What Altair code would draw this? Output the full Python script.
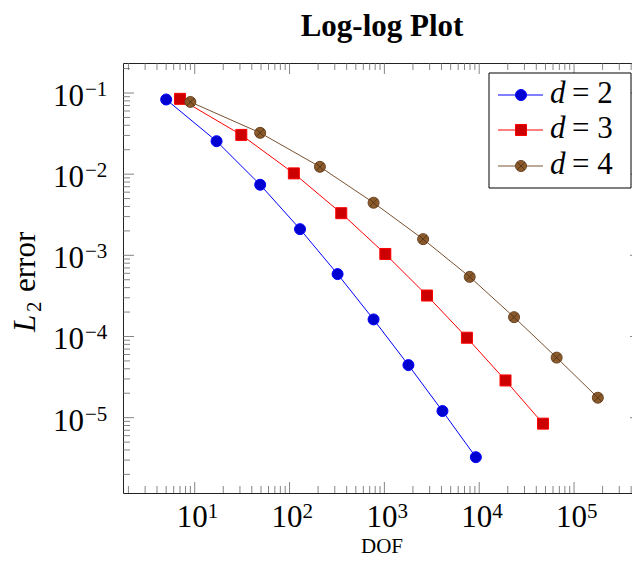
import altair as alt
import pandas as pd

# ---------------- data ----------------
series_names = ["d = 2", "d = 3", "d = 4"]
dof_d2 = [5, 17, 49, 129, 321, 769, 1793, 4097, 9217]
err_d2 = [8.31160034e-02, 2.54685628e-02, 7.40715288e-03, 2.10192154e-03, 5.87352989e-04,
          1.62269942e-04, 4.44248889e-05, 1.20714122e-05, 3.26101452e-06]
dof_d3 = [7, 31, 111, 351, 1023, 2815, 7423, 18943, 47103]
err_d3 = [8.47178381e-02, 3.04409349e-02, 1.02214539e-02, 3.30346265e-03, 1.03886535e-03,
          3.19646457e-04, 9.65789766e-05, 2.87339125e-05, 8.43749881e-06]
dof_d4 = [9, 49, 209, 769, 2561, 7937, 23297, 65537, 178177]
err_d4 = [7.75731853e-02, 3.22917242e-02, 1.23203770e-02, 4.44456656e-03, 1.58313668e-03,
          5.43106416e-04, 1.73077120e-04, 5.49345923e-05, 1.76034392e-05]

x_major_ticks = [1e1, 1e2, 1e3, 1e4, 1e5]
x_exponents = ["1", "2", "3", "4", "5"]
y_major_ticks = [1e-1, 1e-2, 1e-3, 1e-4, 1e-5]
y_exponents = ["\u22121", "\u22122", "\u22123", "\u22124", "\u22125"]

title_text = "Log-log Plot"
x_title = "DOF"
y_title_parts = ["L", "2", "error"]

# ---------------- style ----------------
line_colors = ["#0000ff", "#ff0000", "#7b5230"]
fill_colors = ["#0000d0", "#cc0000", "#8b5a2b"]
stroke_colors = ["#0000ff", "#ff0000", "#6b4423"]
shapes = ["circle", "square", "circle"]
CROSS = "M-0.7,-0.7L0.7,0.7M-0.7,0.7L0.7,-0.7"
FONT = "Liberation Serif"
FS = 31
FS_SUP = 21
TICK_COLOR = "#666"
TICK_W = 0.8
MAJ = 11
MIN = 7

W, H = 518, 430
x_dom = [10 ** 0.2438, 10 ** 5.706]
y_dom = [10 ** -5.9282, 10 ** -0.6305]

x_minor_ticks = [k * 10.0 ** e for e in range(0, 6) for k in range(2, 10)
                 if x_dom[0] <= k * 10.0 ** e <= x_dom[1]]
y_minor_ticks = [k * 10.0 ** -e for e in range(1, 7) for k in range(2, 10)
                 if y_dom[0] <= k * 10.0 ** -e <= y_dom[1]]

rows = []
for name, xs_, ys_ in zip(series_names, [dof_d2, dof_d3, dof_d4], [err_d2, err_d3, err_d4]):
    for a, b in zip(xs_, ys_):
        rows.append({"series": name, "dof": a, "err": b})
df = pd.DataFrame(rows)

xs = alt.Scale(type="log", domain=x_dom, nice=False)
ys = alt.Scale(type="log", domain=y_dom, nice=False)


def X(f="dof"):
    return alt.X(f"{f}:Q", scale=xs, axis=None)


def Y(f="err"):
    return alt.Y(f"{f}:Q", scale=ys, axis=None)


lines = alt.Chart(df).mark_line(strokeWidth=1).encode(
    x=X(), y=Y(),
    color=alt.Color("series:N", scale=alt.Scale(domain=series_names, range=line_colors), legend=None),
)
points = alt.Chart(df).mark_point(filled=True, size=121, opacity=1, strokeWidth=1).encode(
    x=X(), y=Y(),
    shape=alt.Shape("series:N", scale=alt.Scale(domain=series_names, range=shapes), legend=None),
    fill=alt.Fill("series:N", scale=alt.Scale(domain=series_names, range=fill_colors), legend=None),
    stroke=alt.Stroke("series:N", scale=alt.Scale(domain=series_names, range=stroke_colors), legend=None),
)
crosses = alt.Chart(df[df["series"] == series_names[2]]).mark_point(
    shape=CROSS, filled=False, size=121, opacity=1, stroke="#4a2f14", strokeWidth=0.8
).encode(x=X(), y=Y())

layers = [lines, points, crosses]

# ticks on all four sides, pointing inward
xmaj = pd.DataFrame({"dof": x_major_ticks})
xmin = pd.DataFrame({"dof": x_minor_ticks})
ymaj = pd.DataFrame({"err": y_major_ticks})
ymin = pd.DataFrame({"err": y_minor_ticks})
for d, ln in [(xmaj, MAJ), (xmin, MIN)]:
    layers.append(alt.Chart(d).mark_rule(color=TICK_COLOR, strokeWidth=TICK_W).encode(
        x=X(), y=alt.value(H), y2=alt.value(H - ln)))
    layers.append(alt.Chart(d).mark_rule(color=TICK_COLOR, strokeWidth=TICK_W).encode(
        x=X(), y=alt.value(0), y2=alt.value(ln)))
for d, ln in [(ymaj, MAJ), (ymin, MIN)]:
    layers.append(alt.Chart(d).mark_rule(color=TICK_COLOR, strokeWidth=TICK_W).encode(
        y=Y(), x=alt.value(0), x2=alt.value(ln)))
    layers.append(alt.Chart(d).mark_rule(color=TICK_COLOR, strokeWidth=TICK_W).encode(
        y=Y(), x=alt.value(W), x2=alt.value(W - ln)))

# tick labels 10^k
xlab = pd.DataFrame({"dof": x_major_ticks, "exp": x_exponents})
ylab = pd.DataFrame({"err": y_major_ticks, "exp": y_exponents})
layers.append(alt.Chart(xlab).mark_text(font=FONT, fontSize=FS, align="right", baseline="alphabetic",
                                        dx=13, color="black").encode(
    x=X(), y=alt.value(H + 34), text=alt.value("10")))
layers.append(alt.Chart(xlab).mark_text(font=FONT, fontSize=FS_SUP, align="left", baseline="alphabetic",
                                        dx=13, color="black").encode(
    x=X(), y=alt.value(H + 25), text="exp:N"))
layers.append(alt.Chart(ylab).mark_text(font=FONT, fontSize=FS, align="right", baseline="alphabetic",
                                        dy=13, color="black").encode(
    y=Y(), x=alt.value(-39), text=alt.value("10")))
layers.append(alt.Chart(ylab).mark_text(font=FONT, fontSize=FS_SUP, align="left", baseline="alphabetic",
                                        dy=3, color="black").encode(
    y=Y(), x=alt.value(-38), text="exp:N"))

one = pd.DataFrame({"a": [0]})
# chart title
layers.append(alt.Chart(one).mark_text(font=FONT, fontSize=31, fontWeight="bold", align="center",
                                       baseline="alphabetic", color="black").encode(
    x=alt.value(W / 2), y=alt.value(-27), text=alt.value(title_text)))
# axis titles
layers.append(alt.Chart(one).mark_text(font=FONT, fontSize=21, align="center", baseline="alphabetic",
                                       color="black").encode(
    x=alt.value(W / 2), y=alt.value(H + 60), text=alt.value(x_title)))
layers.append(alt.Chart(one).mark_text(font=FONT, fontSize=FS, fontStyle="italic", angle=270, align="left",
                                       baseline="alphabetic", color="black").encode(
    x=alt.value(-88), y=alt.value(269), text=alt.value(y_title_parts[0])))
layers.append(alt.Chart(one).mark_text(font=FONT, fontSize=FS_SUP, angle=270, align="left",
                                       baseline="alphabetic", dx=20, dy=6, color="black").encode(
    x=alt.value(-88), y=alt.value(269), text=alt.value(y_title_parts[1])))
layers.append(alt.Chart(one).mark_text(font=FONT, fontSize=FS, angle=270, align="left",
                                       baseline="alphabetic", dx=40, color="black").encode(
    x=alt.value(-88), y=alt.value(269), text=alt.value(y_title_parts[2])))

# legend box
LX0, LX1, LY0, LY1 = 366, 508, 10, 125
layers.append(alt.Chart(one).mark_rect(fill="white", stroke="black", strokeWidth=1).encode(
    x=alt.value(LX0), x2=alt.value(LX1), y=alt.value(LY0), y2=alt.value(LY1)))
row_y = [32, 67, 103]
for i, name in enumerate(series_names):
    ry = row_y[i]
    layers.append(alt.Chart(one).mark_rule(color=line_colors[i], strokeWidth=1).encode(
        x=alt.value(375), x2=alt.value(420), y=alt.value(ry)))
    layers.append(alt.Chart(one).mark_point(shape=shapes[i], filled=True, size=121, opacity=1,
                                            fill=fill_colors[i], stroke=stroke_colors[i],
                                            strokeWidth=1).encode(
        x=alt.value(398), y=alt.value(ry)))
    if i == 2:
        layers.append(alt.Chart(one).mark_point(shape=CROSS, filled=False, size=121, opacity=1,
                                                stroke="#4a2f14", strokeWidth=0.8).encode(
            x=alt.value(398), y=alt.value(ry)))
    layers.append(alt.Chart(one).mark_text(font=FONT, fontSize=FS, fontStyle="italic", align="left",
                                           baseline="alphabetic", color="black").encode(
        x=alt.value(427), y=alt.value(ry + 8), text=alt.value(name.split(" = ")[0])))
    layers.append(alt.Chart(one).mark_text(font=FONT, fontSize=FS, align="left",
                                           baseline="alphabetic", color="black").encode(
        x=alt.value(449), y=alt.value(ry + 8), text=alt.value("= " + name.split(" = ")[1])))

chart = alt.layer(*layers).properties(
    width=W, height=H,
    padding={"left": 115, "top": 55, "right": -9, "bottom": 64},
    autosize=alt.AutoSizeParams(type="none"),
).configure_view(stroke="#222", strokeWidth=1)

chart.save("out.html", embed_options={"renderer": "svg", "actions": False})
